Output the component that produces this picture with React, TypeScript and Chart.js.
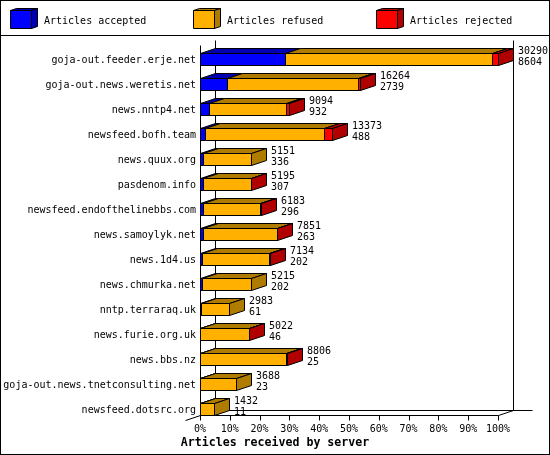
import { useEffect, useRef } from 'react';
import { Chart, registerables, type Plugin } from 'chart.js';

Chart.register(...registerables);

const servers = [
  'goja-out.feeder.erje.net',
  'goja-out.news.weretis.net',
  'news.nntp4.net',
  'newsfeed.bofh.team',
  'news.quux.org',
  'pasdenom.info',
  'newsfeed.endofthelinebbs.com',
  'news.samoylyk.net',
  'news.1d4.us',
  'news.chmurka.net',
  'nntp.terraraq.uk',
  'news.furie.org.uk',
  'news.bbs.nz',
  'goja-out.news.tnetconsulting.net',
  'newsfeed.dotsrc.org',
];

const totals = [30290, 16264, 9094, 13373, 5151, 5195, 6183, 7851, 7134, 5215, 2983, 5022, 8806, 3688, 1432];
const accepted = [8604, 2739, 932, 488, 336, 307, 296, 263, 202, 202, 61, 46, 25, 23, 11];
const refused = [21036, 13295, 7762, 12085, 4815, 4858, 5847, 7548, 6812, 5013, 2922, 4946, 8751, 3665, 1421];
// rejected counts aren't printed, estimated from the width of the red part
const rejected = [650, 230, 400, 800, 0, 30, 40, 40, 120, 0, 0, 30, 30, 0, 0];

const percentTicks = [0, 10, 20, 30, 40, 50, 60, 70, 80, 90, 100];
const axisMax = 30290;

const chartTitle = 'Articles received by server';
const legendLabels = ['Articles accepted', 'Articles refused', 'Articles rejected'];
const faceColors = ['#0000ff', '#ffb000', '#ff0000'];
const shadeColors = ['#0000b0', '#b07c00', '#b00000'];

const MONO = '"DejaVu Sans Mono", monospace';
const DX = 15;
const DY = 5;

function poly(ctx: CanvasRenderingContext2D, pts: number[][], fill: string) {
  ctx.beginPath();
  pts.forEach(([x, y], i) => (i ? ctx.lineTo(x + 0.5, y + 0.5) : ctx.moveTo(x + 0.5, y + 0.5)));
  ctx.closePath();
  ctx.fillStyle = fill;
  ctx.fill();
  ctx.stroke();
}

function line(ctx: CanvasRenderingContext2D, x0: number, y0: number, x1: number, y1: number) {
  ctx.beginPath();
  ctx.moveTo(x0 + 0.5, y0 + 0.5);
  ctx.lineTo(x1 + 0.5, y1 + 0.5);
  ctx.stroke();
}

const boxes3d: Plugin<'bar'> = {
  id: 'boxes3d',
  beforeDraw(chart) {
    const { ctx, width, height } = chart;
    ctx.save();
    ctx.fillStyle = '#ffffff';
    ctx.fillRect(0, 0, width, height);
    ctx.strokeStyle = '#000000';
    ctx.lineWidth = 1;
    ctx.strokeRect(0.5, 0.5, width - 1, height - 1);
    line(ctx, 0, 35, width - 1, 35);

    // legend
    legendLabels.forEach((label, i) => {
      const x = 10 + i * 183;
      poly(ctx, [[x, 10], [x + 6, 8], [x + 27, 8], [x + 21, 10]], shadeColors[i]);
      poly(ctx, [[x + 21, 10], [x + 27, 8], [x + 27, 26], [x + 21, 28]], shadeColors[i]);
      poly(ctx, [[x, 10], [x + 21, 10], [x + 21, 28], [x, 28]], faceColors[i]);
      ctx.fillStyle = '#000000';
      ctx.font = `10px ${MONO}`;
      ctx.textAlign = 'left';
      ctx.textBaseline = 'middle';
      ctx.fillText(label, x + 34, 21);
    });

    ctx.font = `bold 11.6px ${MONO}`;
    ctx.textAlign = 'center';
    ctx.fillStyle = '#000000';
    ctx.fillText(chartTitle, width / 2, 443);
    ctx.restore();
  },
  beforeDatasetsDraw(chart) {
    const { ctx } = chart;
    const xs = chart.scales.x;
    const x0 = Math.round(xs.getPixelForValue(0));
    const x1 = Math.round(xs.getPixelForValue(axisMax));
    const top = 40;
    const floor = 415;
    ctx.save();
    ctx.strokeStyle = '#000000';
    ctx.lineWidth = 1;
    line(ctx, x0, top + DY, x0, floor);
    line(ctx, x0 + DX, top, x0 + DX, floor - DY);
    line(ctx, x1 + DX, top, x1 + DX, floor - DY);
    line(ctx, x0, floor, x1, floor);
    line(ctx, x0 + DX, floor - DY, x1 + DX + 19, floor - DY);
    line(ctx, x0 - DX, floor + DY, x0 + DX, floor - DY);
    line(ctx, x1, floor, x1 + DX, floor - DY);
    percentTicks.forEach(p => {
      const x = Math.round(xs.getPixelForValue((p / 100) * axisMax));
      line(ctx, x, floor, x, floor + 5);
    });
    ctx.restore();
  },
  // the boxes are drawn below instead of the flat bars
  beforeDatasetDraw() {
    return false;
  },
  afterDatasetsDraw(chart) {
    const { ctx } = chart;
    ctx.save();
    ctx.strokeStyle = '#000000';
    ctx.lineWidth = 1;
    servers.forEach((_, row) => {
      let top = 0;
      let end = 0;
      let lastSeries = 0;
      chart.data.datasets.forEach((ds, s) => {
        if (!ds.data[row]) return;
        const bar = chart.getDatasetMeta(s).data[row] as any;
        const a = Math.round(bar.base);
        const b = Math.round(bar.x);
        // band centre sits 1px under the box centre, that keeps the tick labels level
        top = Math.round(bar.y - 7);
        end = b;
        lastSeries = s;
        poly(ctx, [[a, top], [a + DX, top - DY], [b + DX, top - DY], [b, top]], shadeColors[s]);
        poly(ctx, [[a, top], [b, top], [b, top + 12], [a, top + 12]], faceColors[s]);
      });
      poly(ctx, [[end, top], [end + DX, top - DY], [end + DX, top + 12 - DY], [end, top + 12]], shadeColors[lastSeries]);
    });
    // value labels sit over the back floor line
    servers.forEach((_, row) => {
      const y = chart.scales.y.getPixelForValue(row);
      const end = Math.round(chart.scales.x.getPixelForValue(totals[row]));
      ctx.fillStyle = '#000000';
      ctx.font = `10px ${MONO}`;
      ctx.textAlign = 'left';
      ctx.textBaseline = 'middle';
      ctx.fillText(String(totals[row]), end + DX + 5, y - 9);
      ctx.fillText(String(accepted[row]), end + DX + 5, y + 2);
    });
    ctx.restore();
  },
};

export default function App() {
  const canvasRef = useRef<HTMLCanvasElement>(null);

  useEffect(() => {
    if (!canvasRef.current) return;
    document.body.style.margin = '0';

    const chart = new Chart(canvasRef.current, {
      type: 'bar',
      data: {
        labels: servers,
        datasets: [
          { label: legendLabels[0], data: accepted, backgroundColor: faceColors[0] },
          { label: legendLabels[1], data: refused, backgroundColor: faceColors[1] },
          { label: legendLabels[2], data: rejected, backgroundColor: faceColors[2] },
        ],
      },
      options: {
        indexAxis: 'y',
        responsive: false,
        animation: false,
        devicePixelRatio: 1,
        datasets: { bar: { barThickness: 12 } },
        layout: { padding: { top: 47.5, right: 52, bottom: 0, left: 0 } },
        plugins: {
          legend: { display: false },
          tooltip: { enabled: false },
          title: { display: false },
        },
        scales: {
          x: {
            type: 'linear',
            stacked: true,
            min: 0,
            max: axisMax,
            grid: { display: false, drawTicks: false },
            border: { display: false },
            afterFit: (s: any) => { s.height = 32.5; },
            afterBuildTicks: (s: any) => {
              s.ticks = percentTicks.map(p => ({ value: (p / 100) * axisMax }));
            },
            ticks: {
              autoSkip: false,
              maxRotation: 0,
              padding: 1,
              color: '#000000',
              font: { family: MONO, size: 10 },
              callback: (v: any) => `${Math.round((Number(v) / axisMax) * 100)}%`,
            },
          },
          y: {
            stacked: true,
            grid: { display: false, drawTicks: false },
            border: { display: false },
            afterFit: (s: any) => { s.width = 200; },
            ticks: {
              autoSkip: false,
              padding: 4,
              color: '#000000',
              font: { family: MONO, size: 10 },
            },
          },
        },
      },
      plugins: [boxes3d],
    });

    return () => chart.destroy();
  }, []);

  return <canvas ref={canvasRef} width={550} height={455} style={{ display: 'block' }} />;
}
